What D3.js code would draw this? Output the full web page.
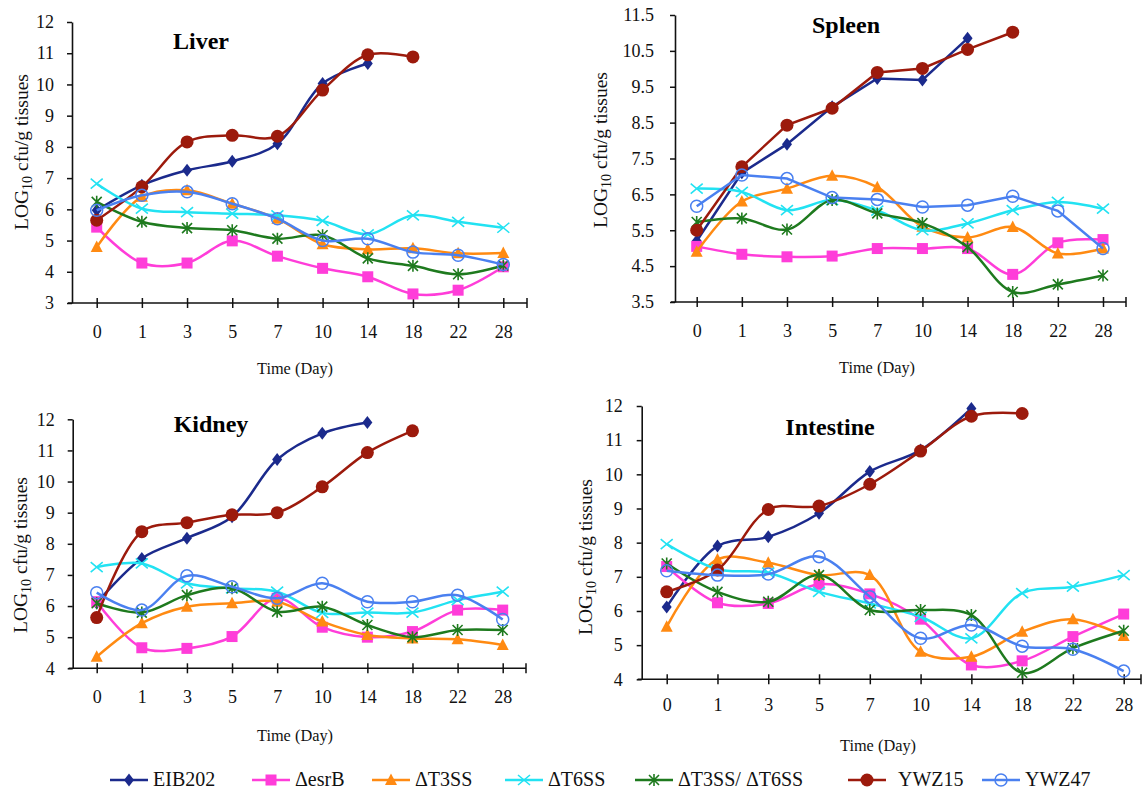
<!DOCTYPE html>
<html><head><meta charset="utf-8">
<script src="https://cdn.jsdelivr.net/npm/d3@7"></script>
<style>
html,body{margin:0;padding:0;background:#fff;}
svg{display:block;}
svg text{font-family:'Liberation Serif','Times New Roman',serif;}
</style></head>
<body>
<svg id="chart" width="1142" height="794"></svg>
<script>
// ---------------- DATA ----------------
const days = ["0","1","3","5","7","10","14","18","22","28"];
const strains = ["EIB202","\u0394esrB","\u0394T3SS","\u0394T6SS","\u0394T3SS/ \u0394T6SS","YWZ15","YWZ47"];
const organs = ["Liver","Spleen","Kidney","Intestine"];

// Liver
const liverEIB202 = [5.97,6.77,7.25,7.54,8.1,10.03,10.67,null,null,null];
const liverEsrB   = [5.43,4.28,4.28,4.99,4.5,4.11,3.84,3.29,3.41,4.16];
const liverT3SS   = [4.79,6.4,6.61,6.18,5.7,4.88,4.72,4.75,4.59,4.6];
const liverT6SS   = [6.82,6.02,5.91,5.86,5.81,5.63,5.2,5.81,5.6,5.41];
const liverT3T6   = [6.24,5.6,5.4,5.33,5.06,5.17,4.43,4.19,3.92,4.2];
const liverYWZ15  = [5.65,6.72,8.16,8.37,8.34,9.82,10.95,10.88,null,null];
const liverYWZ47  = [5.97,6.45,6.56,6.18,5.7,5.0,5.06,4.63,4.53,4.23];
// Spleen
const spleenEIB202 = [5.2,7.1,7.9,8.94,9.73,9.69,10.85,null,null,null];
const spleenEsrB   = [5.05,4.83,4.76,4.78,4.99,4.99,4.99,4.27,5.15,5.24];
const spleenT3SS   = [4.9,6.3,6.66,7.02,6.7,5.6,5.3,5.59,4.85,4.99];
const spleenT6SS   = [6.66,6.57,6.06,6.34,6.05,5.5,5.69,6.06,6.29,6.1];
const spleenT3T6   = [5.73,5.83,5.52,6.34,5.97,5.7,5.03,3.78,3.99,4.24];
const spleenYWZ15  = [5.5,7.27,8.43,8.9,9.9,10.01,10.54,11.02,null,null];
const spleenYWZ47  = [6.17,7.04,6.94,6.41,6.36,6.15,6.2,6.45,6.04,4.99];
// Kidney
const kidneyEIB202 = [6.1,7.53,8.18,8.87,10.71,11.55,11.9,null,null,null];
const kidneyEsrB   = [6.14,4.66,4.64,5.02,6.25,5.32,5.0,5.18,5.87,5.87];
const kidneyT3SS   = [4.37,5.45,5.98,6.09,6.14,5.5,5.07,4.96,4.93,4.75];
const kidneyT6SS   = [7.25,7.37,6.73,6.57,6.46,5.78,5.79,5.79,6.19,6.46];
const kidneyT3T6   = [6.09,5.79,6.35,6.57,5.82,5.98,5.39,5.0,5.23,5.23];
const kidneyYWZ15  = [5.63,8.39,8.68,8.93,9.0,9.83,10.93,11.63,null,null];
const kidneyYWZ47  = [6.43,5.87,6.97,6.62,6.25,6.73,6.14,6.14,6.35,5.57];
// Intestine
const intestineEIB202 = [6.12,7.9,8.17,8.86,10.08,10.71,11.93,null,null,null];
const intestineEsrB   = [7.3,6.24,6.22,6.78,6.5,5.76,4.42,4.54,5.25,5.91];
const intestineT3SS   = [5.54,7.51,7.41,7.05,7.05,4.81,4.66,5.39,5.76,5.27];
const intestineT6SS   = [7.96,7.22,7.12,6.56,6.22,5.83,5.2,6.52,6.71,7.05];
const intestineT3T6   = [7.39,6.56,6.27,7.05,6.03,6.03,5.88,4.19,4.91,5.42];
const intestineYWZ15  = [6.56,7.2,8.97,9.07,9.71,10.68,11.7,11.78,null,null];
const intestineYWZ47  = [7.18,7.05,7.08,7.59,6.42,5.2,5.59,4.97,4.88,4.24];

const liverTicks = [3,4,5,6,7,8,9,10,11,12];
const spleenTicks = [3.5,4.5,5.5,6.5,7.5,8.5,9.5,10.5,11.5];
const kidneyTicks = [4,5,6,7,8,9,10,11,12];
const intestineTicks = [4,5,6,7,8,9,10,11,12];

// ---------------- STYLE / LAYOUT ----------------
const colors = ["#1b2a8c","#ff3dd9","#ff8a12","#22e2f2","#1e7a1e","#9c1a0c","#4a80f0"];
const markers = ["diamond","square","triangle","x","star","circle","ocircle"];

const panels = [
  {name:"Liver", series:[liverEIB202,liverEsrB,liverT3SS,liverT6SS,liverT3T6,liverYWZ15,liverYWZ47],
   ticks:liverTicks, fmt:d3.format("d"), ax:72, x0:96.7, x1:503.3, xEnd:527, yT:22, yB:303,
   title:[201,49], ytitle:[24,152], xtitle:[295,374], xlab:338, pad:13, linear:[]},
  {name:"Spleen", series:[spleenEIB202,spleenEsrB,spleenT3SS,spleenT6SS,spleenT3T6,spleenYWZ15,spleenYWZ47],
   ticks:spleenTicks, fmt:d3.format(".1f"), ax:675, x0:696.7, x1:1103, xEnd:1126, yT:15, yB:302,
   title:[846,33], ytitle:[603,150], xtitle:[877,373], xlab:337, pad:16, linear:[0,5,6]},
  {name:"Kidney", series:[kidneyEIB202,kidneyEsrB,kidneyT3SS,kidneyT6SS,kidneyT3T6,kidneyYWZ15,kidneyYWZ47],
   ticks:kidneyTicks, fmt:d3.format("d"), ax:72.7, x0:96.7, x1:502.7, xEnd:526, yT:419.3, yB:668.3,
   title:[211,432], ytitle:[23,555], xtitle:[295,741], xlab:703, pad:13, linear:[]},
  {name:"Intestine", series:[intestineEIB202,intestineEsrB,intestineT3SS,intestineT6SS,intestineT3T6,intestineYWZ15,intestineYWZ47],
   ticks:intestineTicks, fmt:d3.format("d"), ax:641.7, x0:666.7, x1:1123.7, xEnd:1141, yT:406, yB:679.3,
   title:[830,435], ytitle:[588,557], xtitle:[878,751], xlab:711, pad:14, linear:[]}
];

const svg = d3.select("#chart");

function drawMarker(g, type, x, y, color){
  if(type==="diamond"){
    g.append("path").attr("d",`M${x},${y-6.5}L${x+5},${y}L${x},${y+6.5}L${x-5},${y}Z`).attr("fill",color);
  } else if(type==="square"){
    g.append("rect").attr("x",x-5.5).attr("y",y-5.5).attr("width",11).attr("height",11).attr("fill",color);
  } else if(type==="triangle"){
    g.append("path").attr("d",`M${x},${y-6.5}L${x+6},${y+5}L${x-6},${y+5}Z`).attr("fill",color);
  } else if(type==="x"){
    g.append("path").attr("d",`M${x-6},${y-5}L${x+6},${y+5}M${x-6},${y+5}L${x+6},${y-5}`).attr("stroke",color).attr("stroke-width",1.6).attr("fill","none");
  } else if(type==="star"){
    g.append("path").attr("d",`M${x-5},${y-5}L${x+5},${y+5}M${x-5},${y+5}L${x+5},${y-5}M${x},${y-6}L${x},${y+6}`).attr("stroke",color).attr("stroke-width",1.6).attr("fill","none");
  } else if(type==="circle"){
    g.append("circle").attr("cx",x).attr("cy",y).attr("r",6.5).attr("fill",color);
  } else if(type==="ocircle"){
    g.append("circle").attr("cx",x).attr("cy",y).attr("r",6).attr("fill","none").attr("stroke",color).attr("stroke-width",1.5);
  }
}

panels.forEach(p=>{
  const g = svg.append("g");
  const x = d3.scalePoint().domain(days).range([p.x0,p.x1]);
  const y = d3.scaleLinear().domain([p.ticks[0], p.ticks[p.ticks.length-1]]).range([p.yB,p.yT]);

  // Y axis
  const ya = g.append("g").attr("transform",`translate(${p.ax},0)`)
    .call(d3.axisLeft(y).tickValues(p.ticks).tickFormat(p.fmt).tickSizeInner(5).tickSizeOuter(0).tickPadding(p.pad));
  ya.attr("font-family",null);
  ya.select(".domain").attr("stroke","#111").attr("stroke-width",1.6);
  ya.selectAll(".tick line").attr("stroke","#111").attr("stroke-width",1.5);
  ya.selectAll(".tick text").attr("font-size",18).attr("fill","#111");

  // X axis
  const xa = g.append("g").attr("transform",`translate(0,${p.yB})`)
    .call(d3.axisBottom(x).tickSizeInner(5).tickSizeOuter(0));
  xa.attr("font-family",null);
  xa.select(".domain").remove();
  xa.selectAll(".tick line").attr("y1",-5).attr("y2",5).attr("stroke","#111").attr("stroke-width",1.5);
  xa.selectAll(".tick text").attr("y",p.xlab-p.yB).attr("dy",0).attr("font-size",18).attr("fill","#111");
  xa.append("line").attr("x1",p.ax-4).attr("x2",p.xEnd).attr("y1",0).attr("y2",0).attr("stroke","#111").attr("stroke-width",1.6);
  xa.append("line").attr("x1",p.xEnd).attr("x2",p.xEnd).attr("y1",-5).attr("y2",5).attr("stroke","#111").attr("stroke-width",1.5);

  // Titles
  g.append("text").attr("x",p.title[0]).attr("y",p.title[1]).attr("text-anchor","middle")
    .attr("font-size",24).attr("font-weight","bold").attr("fill","#000").text(p.name);
  const yt = g.append("text").attr("transform",`translate(${p.ytitle[0]},${p.ytitle[1]}) rotate(-90)`)
    .attr("text-anchor","middle").attr("font-size",19.5).attr("fill","#111").attr("dominant-baseline","middle");
  yt.append("tspan").text("LOG");
  yt.append("tspan").attr("font-size",14).attr("dy",5).text("10");
  yt.append("tspan").attr("dy",-5).text(" cfu/g tissues");
  g.append("text").attr("x",p.xtitle[0]).attr("y",p.xtitle[1]).attr("text-anchor","middle")
    .attr("font-size",16).attr("fill","#111")
    .attr("textLength",76).attr("lengthAdjust","spacingAndGlyphs").text("Time (Day)");

  // Series
  p.series.forEach((vals,i)=>{
    const pts = days.map((d,j)=>({d, v:vals[j]})).filter(o=>o.v!=null);
    const curve = p.linear.includes(i) ? d3.curveLinear : d3.curveCatmullRom.alpha(0.5);
    const line = d3.line().x(o=>x(o.d)).y(o=>y(o.v)).curve(curve);
    const sg = g.append("g");
    sg.append("path").datum(pts).attr("d",line).attr("fill","none")
      .attr("stroke",colors[i]).attr("stroke-width",2.5);
    pts.forEach(o=>drawMarker(sg, markers[i], x(o.d), y(o.v), colors[i]));
  });
});

// Legend
const legendX = [110,252,372,505,635,848,982];
const lg = svg.append("g");
strains.forEach((s,i)=>{
  const lx = legendX[i], ly = 780;
  lg.append("line").attr("x1",lx).attr("x2",lx+38).attr("y1",ly).attr("y2",ly)
    .attr("stroke",colors[i]).attr("stroke-width",2.5);
  drawMarker(lg, markers[i], lx+19, ly, colors[i]);
  lg.append("text").attr("x", lx + (i===5?50:43)).attr("y",786)
    .attr("font-size",20).attr("fill","#111").text(s);
});
</script>
</body></html>
